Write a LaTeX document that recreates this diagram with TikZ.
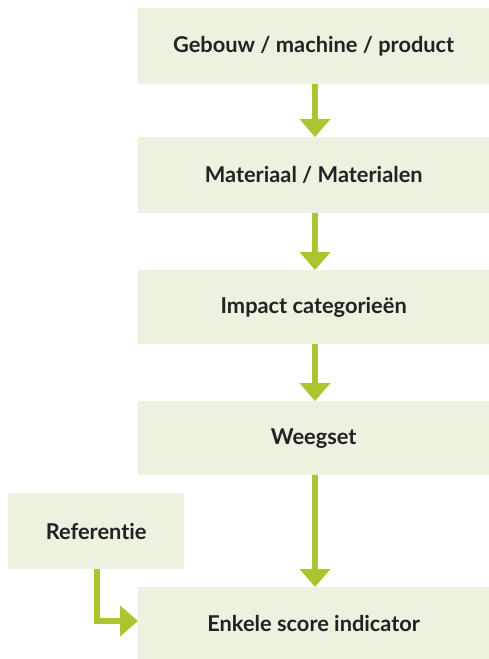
\documentclass[tikz,border=0pt]{standalone}
\usepackage{fontspec}
\setmainfont[Ligatures={NoCommon,NoRare}]{Lato}
\usetikzlibrary{arrows.meta}
\definecolor{boxfill}{HTML}{EBF2DF}
\definecolor{arrowc}{HTML}{A9C52F}
\definecolor{txt}{HTML}{222222}
\begin{document}
\begin{tikzpicture}[x=1pt,y=-1pt,
  boxstyle/.style={fill=boxfill,draw=none,inner sep=0pt,text=txt,font=\fontsize{21.8}{24}\selectfont\bfseries},
  flow/.style={draw=arrowc,line width=5.5pt,-{Triangle[width=30pt,length=18pt]}}]
\useasboundingbox (0,0) rectangle (489,659);
\node[boxstyle,minimum width=351pt,minimum height=76pt,anchor=north west] (b1) at (138,8) {Gebouw / machine / product};
\node[boxstyle,minimum width=351pt,minimum height=76pt,anchor=north west] (b2) at (138,137) {Materiaal / Materialen};
\node[boxstyle,minimum width=351pt,minimum height=74pt,anchor=north west] (b3) at (138,270) {Impact categorieën};
\node[boxstyle,minimum width=351pt,minimum height=74pt,anchor=north west] (b4) at (138,401) {Weegset};
\node[boxstyle,minimum width=351pt,minimum height=72pt,anchor=north west] (b5) at (138,587) {Enkele score indicator};
\node[boxstyle,minimum width=176pt,minimum height=76pt,anchor=north west] (r) at (8,493) {Referentie};
\draw[flow] (b1.south -| 315,0) -- (b2.north -| 315,0);
\draw[flow] (b2.south -| 315,0) -- (b3.north -| 315,0);
\draw[flow] (b3.south -| 315,0) -- (b4.north -| 315,0);
\draw[flow] (b4.south -| 315,0) -- (b5.north -| 315,0);
\coordinate (rs) at (97,569);
\draw[flow] (rs) |- (b5.west |- 0,621);
\end{tikzpicture}
\end{document}
